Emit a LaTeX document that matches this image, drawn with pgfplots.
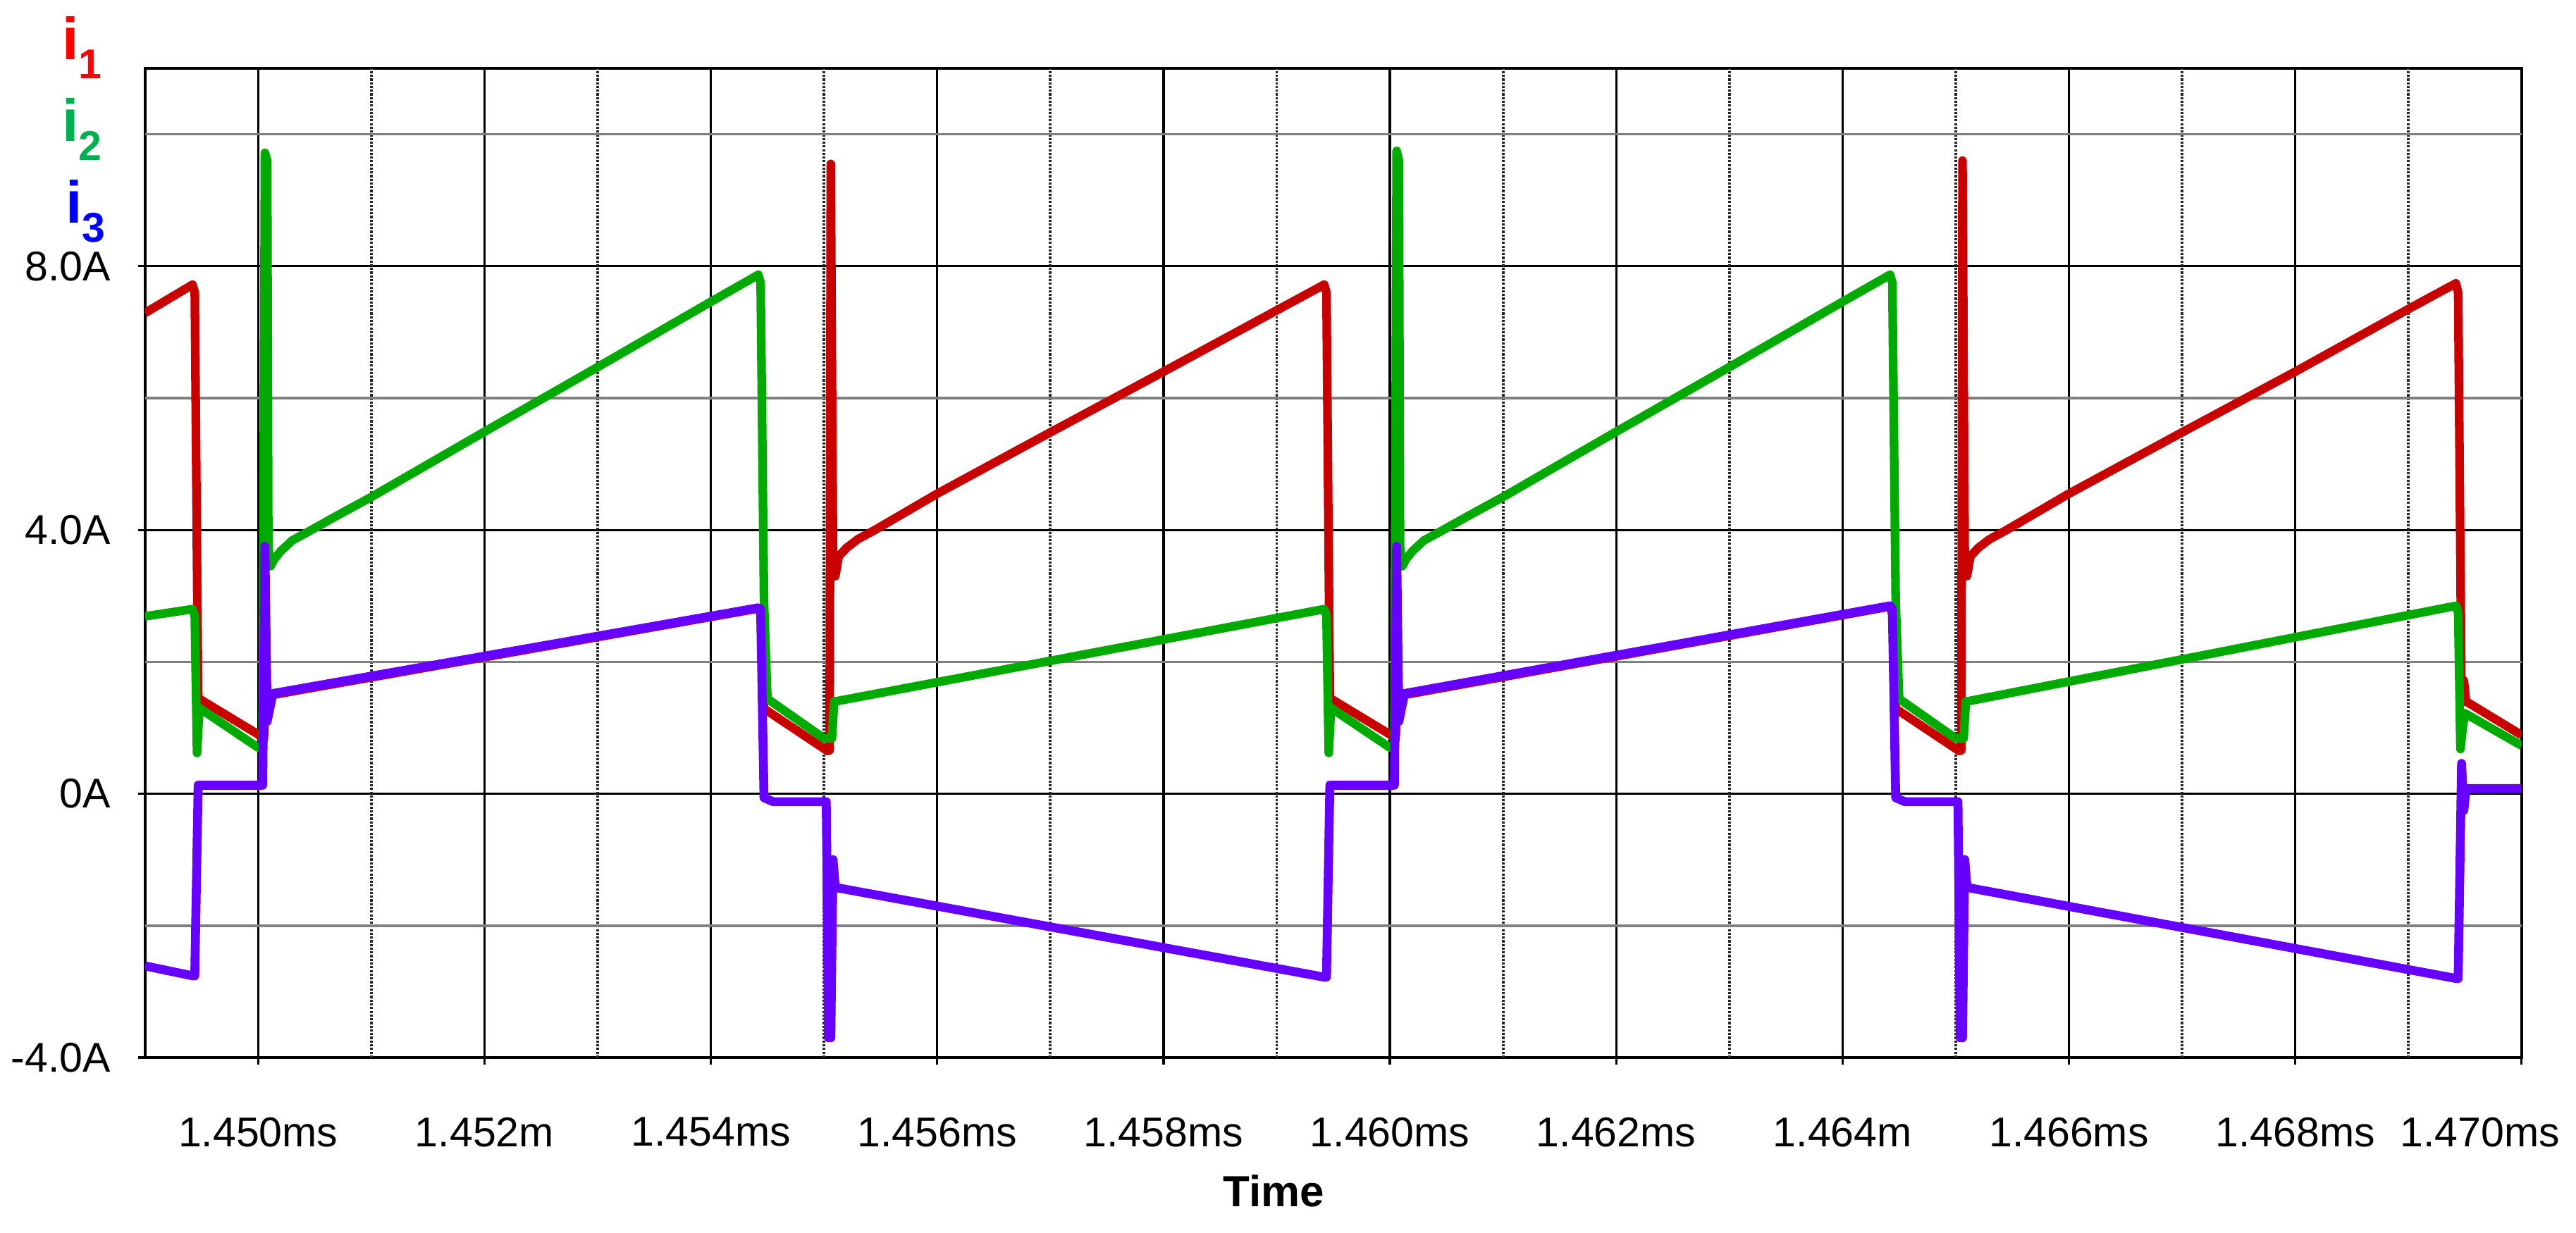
\documentclass[border=0pt]{standalone}
\usepackage{pgfplots}
\pgfplotsset{compat=1.18}
\usepackage{fontspec}
\setmainfont{Liberation Sans}
\definecolor{lineRed}{RGB}{200,0,0}
\definecolor{lineGreen}{RGB}{0,170,0}
\definecolor{linePurple}{RGB}{102,0,255}
\definecolor{labRed}{RGB}{255,0,0}
\definecolor{labGreen}{RGB}{0,176,80}
\definecolor{labBlue}{RGB}{0,0,255}

\pgfplotstableread{
t v
1449.00 7.29
1449.42 7.72
1449.44 7.60
1449.47 1.45
1450.00 0.90
1450.05 0.82
1450.07 1.50
1450.13 1.50
1454.42 2.81
1454.44 2.72
1454.47 1.29
1455.03 0.65
1455.05 0.66
1455.06 9.55
1455.08 3.50
1455.10 3.30
1455.13 3.60
1455.20 3.73
1455.30 3.86
1455.45 4.00
1455.70 4.25
1456.00 4.55
1457.00 5.48
1458.00 6.40
1459.00 7.33
1459.42 7.72
1459.44 7.60
1459.47 1.45
1460.00 0.90
1460.05 0.82
1460.07 1.50
1460.13 1.50
1464.42 2.84
1464.44 2.72
1464.47 1.29
1465.03 0.65
1465.05 0.66
1465.06 9.60
1465.08 3.50
1465.10 3.30
1465.13 3.60
1465.20 3.73
1465.30 3.86
1465.45 4.00
1465.70 4.25
1466.00 4.55
1467.00 5.48
1468.00 6.40
1469.00 7.35
1469.42 7.74
1469.44 7.60
1469.47 1.38
1469.49 1.72
1469.51 1.40
1470.00 0.89
}\iOne

\pgfplotstableread{
t v
1449.00 2.69
1449.42 2.80
1449.44 2.70
1449.46 0.62
1449.48 1.30
1450.00 0.70
1450.04 0.70
1450.06 9.72
1450.08 9.60
1450.09 3.75
1450.11 3.45
1450.14 3.55
1450.20 3.68
1450.30 3.84
1450.45 3.98
1450.70 4.22
1451.00 4.50
1452.00 5.49
1453.00 6.47
1454.00 7.46
1454.42 7.87
1454.44 7.75
1454.47 2.90
1454.50 1.44
1455.00 0.84
1455.07 0.84
1455.09 1.40
1455.10 1.40
1459.42 2.80
1459.44 2.70
1459.46 0.62
1459.48 1.30
1460.00 0.70
1460.04 0.70
1460.06 9.75
1460.08 9.60
1460.09 3.75
1460.11 3.45
1460.14 3.55
1460.20 3.68
1460.30 3.84
1460.45 3.98
1460.70 4.22
1461.00 4.50
1462.00 5.49
1463.00 6.47
1464.00 7.46
1464.42 7.87
1464.44 7.75
1464.47 2.90
1464.50 1.44
1465.00 0.84
1465.07 0.84
1465.09 1.40
1465.10 1.40
1469.42 2.85
1469.44 2.75
1469.46 0.68
1469.48 1.00
1469.50 1.22
1470.00 0.73
}\iTwo

\pgfplotstableread{
t v
1449.00 -2.61
1449.42 -2.76
1449.44 -2.76
1449.47 0.13
1450.04 0.13
1450.06 3.75
1450.08 1.10
1450.13 1.52
1454.42 2.82
1454.44 2.80
1454.47 -0.06
1454.55 -0.12
1455.02 -0.12
1455.04 -3.70
1455.06 -3.70
1455.08 -1.00
1455.10 -1.42
1459.42 -2.78
1459.44 -2.78
1459.47 0.13
1460.04 0.13
1460.06 3.75
1460.08 1.10
1460.13 1.52
1464.42 2.85
1464.44 2.80
1464.47 -0.06
1464.55 -0.12
1465.02 -0.12
1465.04 -3.70
1465.06 -3.70
1465.08 -1.00
1465.10 -1.42
1469.42 -2.80
1469.44 -2.80
1469.47 0.46
1469.49 -0.25
1469.51 0.08
1470.00 0.08
}\iThree

\begin{document}
\begin{tikzpicture}
\useasboundingbox (-10.285mm,-12.45mm) rectangle (172.465mm,75.05mm);
\begin{axis}[
  at={(0,0)}, anchor=south west,
  scale only axis,
  width=168.6mm, height=70.2mm,
  xmin=1449, xmax=1470,
  ymin=-4, ymax=11,
  xtick={1450,1452,1454,1456,1458,1460,1462,1464,1466,1468,1470},
  xticklabels={1.450ms,1.452m,1.454ms,1.456ms,1.458ms,1.460ms,1.462ms,1.464m,1.466ms,1.468ms,\hspace*{-5.9mm}1.470ms},
  ytick={-4,0,4,8},
  yticklabels={-4.0A,0A,4.0A,8.0A},
  tick pos=left,
  tick align=outside,
  major tick length=0.5mm,
  tick style={black, line width=0.47pt},
  grid=major,
  major grid style={black, line width=0.47pt},
  axis line style={black, line width=0.6pt},
  extra x ticks={1451,1453,1455,1457,1459,1461,1463,1465,1467,1469},
  extra x tick labels={},
  extra x tick style={grid=major, major tick length=0pt, major grid style={dash pattern=on 0.45pt off 0.3pt, black!85, line width=0.55pt}},
  extra y ticks={-2,2,6,10},
  extra y tick labels={},
  extra y tick style={grid=major, major tick length=0pt, major grid style={black!50, line width=0.5pt}},
  ticklabel style={font=\fontsize{8.4}{10}\selectfont},
  xticklabel style={yshift=-2.5mm},
  yticklabel style={xshift=-0.7mm},
  every axis plot/.append style={line join=round},
]
\addplot[lineRed, line width=1.75pt] table[x=t,y=v] {\iOne};
\addplot[lineGreen, line width=1.75pt] table[x=t,y=v] {\iTwo};
\addplot[linePurple, line width=1.8pt] table[x=t,y=v] {\iThree};
\end{axis}
\node[anchor=base west, inner sep=0pt, text=labRed, font=\fontsize{12}{12}\selectfont\bfseries] at (-5.95mm,70.8mm) {i\raisebox{-1.35mm}{\fontsize{8.4}{8.4}\selectfont 1}};
\node[anchor=base west, inner sep=0pt, text=labGreen, font=\fontsize{12}{12}\selectfont\bfseries] at (-5.95mm,65.0mm) {i\raisebox{-1.35mm}{\fontsize{8.4}{8.4}\selectfont 2}};
\node[anchor=base west, inner sep=0pt, text=labBlue, font=\fontsize{12}{12}\selectfont\bfseries] at (-5.7mm,59.2mm) {i\raisebox{-1.35mm}{\fontsize{8.4}{8.4}\selectfont 3}};
\node[font=\fontsize{8.8}{10}\selectfont\bfseries] at (80.07mm,-9.45mm) {Time};
\end{tikzpicture}
\end{document}
